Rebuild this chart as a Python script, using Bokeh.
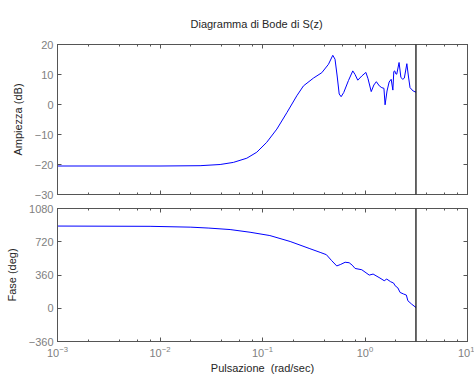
import numpy as np
from bokeh.plotting import figure
from bokeh.layouts import column
from bokeh.models import Range1d, FixedTicker, LinearAxis, LogAxis, Span, LogTicker
from bokeh.embed import file_html
from bokeh.resources import INLINE

# Magnitude response |S(e^jw)| in dB
mag_freq = [0.001, 0.01, 0.0246, 0.0386, 0.052, 0.0703, 0.088, 0.110, 0.138, 0.173,
            0.216, 0.251, 0.314, 0.379, 0.44, 0.485, 0.51, 0.535, 0.56, 0.585,
            0.62, 0.69, 0.76, 0.80, 0.85, 0.93, 1.02, 1.07, 1.15, 1.22,
            1.29, 1.38, 1.46, 1.53, 1.57, 1.64, 1.72, 1.80, 1.87, 1.91,
            1.95, 2.0, 2.04, 2.15, 2.24, 2.34, 2.42, 2.56, 2.65, 2.75,
            2.95, 3.1416]
mag_db = [-20.5, -20.5, -20.4, -20.0, -19.3, -17.9, -15.9, -12.6, -8.2, -2.7,
          2.9, 6.2, 8.8, 10.6, 13.4, 16.4, 15.1, 9.5, 3.5, 2.6,
          4.0, 8.0, 11.2, 10.0, 8.1, 9.5, 10.7, 8.6, 4.3, 6.5,
          7.6, 6.2, 5.6, 5.4, -0.1, 4.5, 7.5, 8.4, 4.8, 11.0,
          11.2, 10.2, 10.1, 14.0, 9.0, 8.4, 8.8, 13.6, 9.5, 5.6,
          4.5, 4.1]

# Phase response in degrees
phase_freq = [0.001, 0.008, 0.02, 0.03, 0.0483, 0.0756, 0.118, 0.186, 0.29, 0.365,
              0.42, 0.47, 0.53, 0.58, 0.64, 0.70, 0.75, 0.80, 0.93, 1.10,
              1.20, 1.40, 1.54, 1.63, 1.78, 1.90, 1.97, 2.09, 2.20, 2.38,
              2.53, 2.62, 2.85, 3.1416]
phase_deg = [890, 887, 878, 868, 852, 823, 787, 723, 645, 605,
             580, 519, 458, 475, 498, 493, 467, 431, 417, 359,
             370, 327, 298, 316, 287, 273, 243, 221, 171, 154,
             143, 81, 45, 8]

mag_ticks = [-30, -20, -10, 0, 10, 20]
phase_ticks = [-360, 0, 360, 720, 1080]
nyquist = np.pi  # rad/sample

FONT = "Liberation Sans"
FRAME = "#555555"
TICK_TXT = "#808080"
TXT = "#262626"
BLUE = "#0000ff"


def minus(v):
    return str(v).replace("-", "\u2212")


def style_axis(ax, show_labels):
    ax.axis_line_color = FRAME
    ax.major_tick_line_color = FRAME
    ax.minor_tick_line_color = FRAME
    ax.major_tick_in = 4
    ax.major_tick_out = 0
    ax.minor_tick_in = 2
    ax.minor_tick_out = 0
    ax.major_label_text_font = FONT
    ax.major_label_text_color = TICK_TXT
    if show_labels:
        ax.major_label_text_font_size = "11px"
        ax.major_label_standoff = 4
    else:
        ax.major_label_text_font_size = "1px"
        ax.major_label_text_alpha = 0
        ax.major_label_standoff = 0
    ax.axis_label_text_font = FONT
    ax.axis_label_text_color = TXT
    ax.axis_label_text_font_size = "11px"
    ax.axis_label_text_font_style = "normal"


def make_panel(ylabel, yticks, y_range, height, top, bottom, x_labels):
    p = figure(x_axis_type="log", x_range=Range1d(1e-3, 10), y_range=y_range,
               frame_width=410, frame_height=height,
               min_border_left=57, min_border_right=7,
               min_border_top=top, min_border_bottom=bottom,
               output_backend="svg", toolbar_location=None,
               background_fill_color="white", border_fill_color="white")
    p.outline_line_color = FRAME
    p.xgrid.visible = False
    p.ygrid.visible = False

    p.yaxis.ticker = FixedTicker(ticks=yticks)
    p.yaxis.major_label_overrides = {v: minus(v) for v in yticks}
    p.yaxis.axis_label = ylabel
    p.yaxis.axis_label_standoff = 8
    for ax in p.yaxis:
        style_axis(ax, True)
        ax.minor_tick_in = 0
    for ax in p.xaxis:
        style_axis(ax, x_labels)
        ax.ticker = LogTicker(desired_num_ticks=5)
    if x_labels:
        p.xaxis.axis_label = "Pulsazione \u00a0(rad/sec)"
        p.xaxis.axis_label_standoff = 2

    right = LinearAxis(ticker=FixedTicker(ticks=yticks))
    style_axis(right, False)
    right.minor_tick_in = 0
    p.add_layout(right, "right")

    top_ax = LogAxis(ticker=LogTicker(desired_num_ticks=5))
    style_axis(top_ax, False)
    p.add_layout(top_ax, "above")

    p.add_layout(Span(location=nyquist, dimension="height",
                      line_color="black", line_width=1.2))
    return p


p1 = make_panel("Ampiezza (dB)", mag_ticks, Range1d(-30, 20), 150, 44, 6, False)
p1.title.text = "Diagramma di Bode di S(z)"
p1.title.align = "left"
p1.title.offset = 133
p1.title.standoff = 30
p1.title.text_font = FONT
p1.title.text_font_size = "11px"
p1.title.text_font_style = "normal"
p1.title.text_color = TXT
p1.line(mag_freq, mag_db, line_color=BLUE, line_width=1)

p2 = make_panel("Fase (deg)", phase_ticks, Range1d(-360, 1080), 133, 8, 35, True)
p2.line(phase_freq, phase_deg, line_color=BLUE, line_width=1)

layout = column(p1, p2, spacing=0)
open("out.html", "w").write(file_html(layout, INLINE))
